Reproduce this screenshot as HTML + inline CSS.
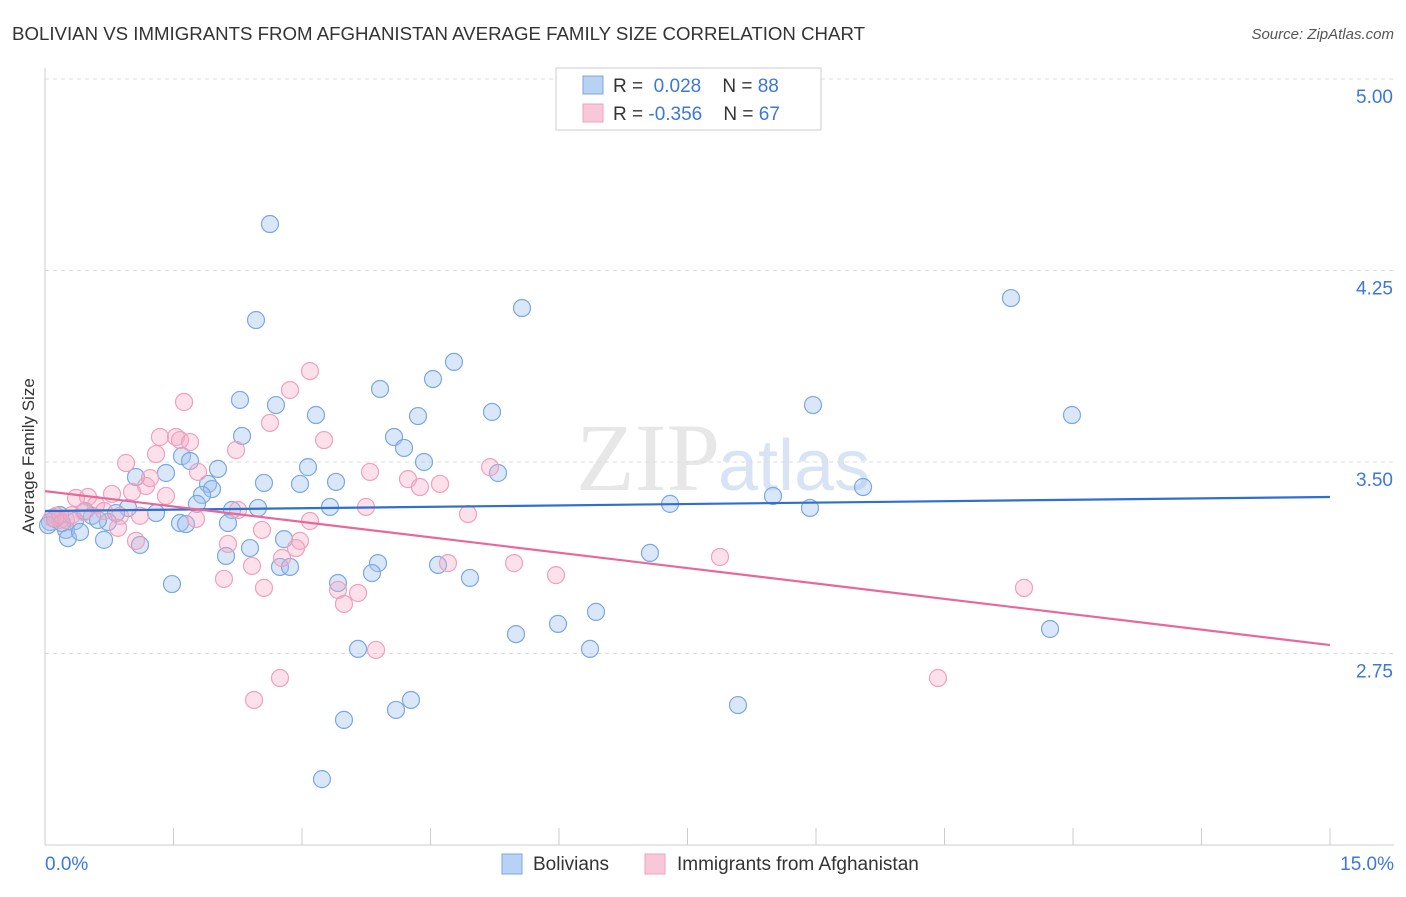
<!DOCTYPE html>
<html><head><meta charset="utf-8"><style>
body{margin:0;background:#fff;font-family:"Liberation Sans",sans-serif}
</style></head><body>
<svg id="chart" width="1406" height="892" xmlns="http://www.w3.org/2000/svg" font-family="Liberation Sans, sans-serif">
<text x="12" y="40" font-size="18" fill="#333" textLength="853" lengthAdjust="spacingAndGlyphs">BOLIVIAN VS IMMIGRANTS FROM AFGHANISTAN AVERAGE FAMILY SIZE CORRELATION CHART</text>
<text x="1394" y="39" font-size="15" fill="#555" font-style="italic" text-anchor="end">Source: ZipAtlas.com</text>
<text x="720" y="490" font-size="96" fill="#ddd" text-anchor="end" font-family="Liberation Serif, serif" opacity="0.7">ZIP</text>
<text x="718" y="490" font-size="72" fill="#c8daf0" opacity="0.7">atlas</text>
<g id="grid"></g><g id="axes"></g><g id="pts"></g><g id="trend"></g>
<text transform="translate(34,456) rotate(-90)" font-size="17" fill="#333" text-anchor="middle">Average Family Size</text>
<g>
<rect x="556" y="68" width="265" height="62" fill="#fff" stroke="#ccc"/>
<rect x="583" y="76" width="20" height="18" fill="#b8d2f4" stroke="#7aa8e0"/>
<rect x="583" y="104" width="20" height="18" fill="#f9c8d8" stroke="#f0a0bc"/>
<text x="613" y="92" font-size="19" fill="#333">R = <tspan fill="#3b78d8">&#160;0.028</tspan>&#160;&#160;&#160; N = <tspan fill="#3b78d8">88</tspan></text>
<text x="613" y="120" font-size="19" fill="#333">R = <tspan fill="#3b78d8">-0.356</tspan>&#160;&#160;&#160; N = <tspan fill="#3b78d8">67</tspan></text>
</g>
<g>
<rect x="502" y="854" width="20" height="20" fill="#b8d2f4" stroke="#7aa8e0"/>
<text x="533" y="870" font-size="19" fill="#333">Bolivians</text>
<rect x="645" y="854" width="20" height="20" fill="#f9c8d8" stroke="#f0a0bc"/>
<text x="677" y="870" font-size="19" fill="#333">Immigrants from Afghanistan</text>
</g>
</svg>
<script>
const yTicks=[5.00,4.25,3.50,2.75];
const xTickLabels=["0.0%","15.0%"];
const blueX=[],blueY=[],pinkX=[],pinkY=[];
const bluePx=[[270,224],[256,320],[522,308],[1011,298],[454,362],[433,379],[380,389],[240,400],[276,405],[316,415],[418,416],[492,412],[813,405],[1072,415],[242,436],[394,437],[404,448],[182,456],[218,469],[190,461],[308,467],[424,462],[166,473],[136,477],[264,483],[300,484],[336,482],[208,484],[498,473],[863,487],[212,489],[202,495],[197,504],[258,508],[232,510],[330,507],[670,504],[773,496],[810,508],[156,513],[128,508],[116,513],[92,516],[60,515],[75,521],[66,530],[108,522],[180,523],[186,524],[228,523],[68,538],[80,532],[104,540],[140,545],[250,548],[226,556],[284,539],[650,553],[378,563],[438,565],[280,567],[290,567],[372,573],[470,578],[338,583],[172,584],[596,612],[558,624],[516,634],[1050,629],[358,649],[590,649],[738,705],[411,700],[396,710],[344,720],[322,779],[50,522],[55,519],[48,525],[62,523],[85,511],[98,520]];
const pinkPx=[[310,371],[290,390],[184,402],[270,423],[324,440],[160,437],[176,437],[180,440],[190,442],[236,450],[156,454],[126,463],[490,467],[370,472],[198,472],[408,479],[440,484],[420,487],[146,486],[150,478],[132,492],[166,496],[112,494],[88,497],[76,498],[96,505],[104,511],[120,516],[140,516],[196,519],[238,510],[366,507],[468,514],[310,521],[262,530],[56,516],[60,520],[52,518],[66,520],[136,541],[228,544],[300,541],[296,548],[282,558],[448,563],[514,563],[720,557],[252,566],[224,579],[556,575],[264,588],[338,590],[358,593],[344,604],[1024,588],[376,650],[280,678],[254,700],[938,678],[84,512],[72,515],[118,528]];
// values (converted to data units)
bluePx.forEach(p=>{blueX.push(+((p[0]-45)*15/1285).toFixed(3));blueY.push(+(5-(p[1]-79)*0.75/191.5).toFixed(3));});
pinkPx.forEach(p=>{pinkX.push(+((p[0]-45)*15/1285).toFixed(3));pinkY.push(+(5-(p[1]-79)*0.75/191.5).toFixed(3));});
const blueTrend=[3.308,3.363];
const pinkTrend=[3.386,2.783];
const NS="http://www.w3.org/2000/svg";
const X=v=>45+v/15*1285, Y=v=>79+(5-v)/0.75*191.5;
function mk(t,a,parent){const e=document.createElementNS(NS,t);for(const k in a)e.setAttribute(k,a[k]);document.getElementById(parent).appendChild(e);return e;}
yTicks.forEach(t=>{
 const l=mk('line',{x1:45,x2:1394,y1:Y(t),y2:Y(t),stroke:'#ddd','stroke-dasharray':'4,4'},'grid');
 
 
 const tx=mk('text',{x:1393,y:Y(t)+24,'font-size':19,fill:'#3b78d8','text-anchor':'end'},'grid');
 tx.textContent=t.toFixed(2);
 
 
});
const ax=mk('line',{x1:45,x2:1394,y1:845,y2:845,stroke:'#ccc'},'axes');


const ay=mk('line',{x1:45,x2:45,y1:68,y2:845,stroke:'#ccc'},'axes');


for(let i=0;i<=10;i++){const t=mk('line',{x1:X(i*1.5),x2:X(i*1.5),y1:828,y2:845,stroke:'#ccc'},'axes');
 
 }
const l0=mk('text',{x:45,y:870,'font-size':19,fill:'#3b78d8'},'axes');l0.textContent=xTickLabels[0];


const l1=mk('text',{x:1394,y:870,'font-size':19,fill:'#3b78d8','text-anchor':'end'},'axes');l1.textContent=xTickLabels[1];


blueX.forEach((x,i)=>{const c=mk('circle',{cx:X(x),cy:Y(blueY[i]),r:8.5,fill:'rgba(160,196,240,0.4)',stroke:'#7aa8e0','stroke-width':1.2},'pts');
 
 });
pinkX.forEach((x,i)=>{const c=mk('circle',{cx:X(x),cy:Y(pinkY[i]),r:8.5,fill:'rgba(245,170,195,0.35)',stroke:'#f0a0bc','stroke-width':1.2},'pts');
 
 });
const bt=mk('line',{x1:X(0),y1:Y(blueTrend[0]),x2:X(15),y2:Y(blueTrend[1]),stroke:'#2f6fd0','stroke-width':2.2},'trend');


const pt=mk('line',{x1:X(0),y1:Y(pinkTrend[0]),x2:X(15),y2:Y(pinkTrend[1]),stroke:'#e8689a','stroke-width':2.2},'trend');


</script>
</body></html>
